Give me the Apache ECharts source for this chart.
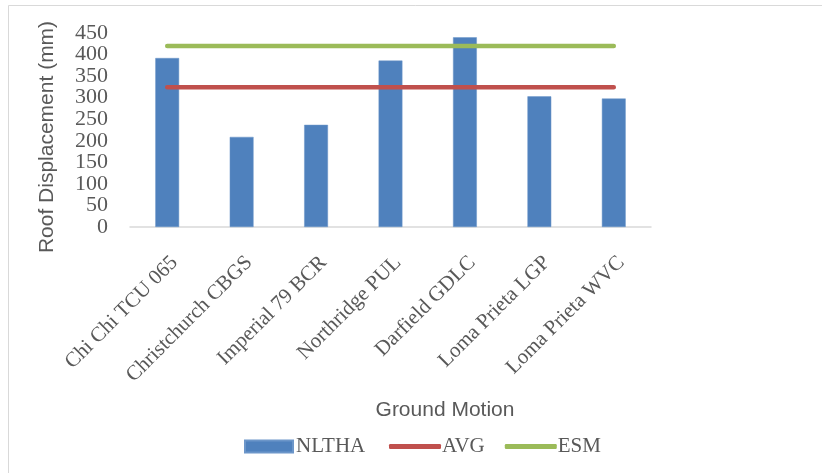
<!DOCTYPE html>
<html><head><meta charset="utf-8">
<script src="https://cdn.jsdelivr.net/npm/echarts@6/dist/echarts.min.js"></script>
<style>html,body{margin:0;padding:0;background:#fff}#c{width:822px;height:473px}</style>
</head><body><div id="c"></div>
<script>
const categories = ['Chi Chi TCU 065','Christchurch CBGS','Imperial 79 BCR','Northridge PUL','Darfield GDLC','Loma Prieta LGP','Loma Prieta WVC'];
const nlthaValues = [392, 209, 237, 386, 440, 303, 298];
const avgValues = [324, 324, 324, 324, 324, 324, 324];
const esmValues = [420, 420, 420, 420, 420, 420, 420];
const yTicksEven = [0, 100, 200, 300, 400];
const yTicksOdd = [50, 150, 250, 350, 450];

const serif = '"Liberation Serif", serif';
const sans = '"Liberation Sans", Arial, sans-serif';
const txt = '#595959';

function yAxisDef(values) {
  return {
    type: 'value', position: 'left', offset: 0, min: 0, max: 450, interval: 50,
    axisLine: {show: false}, axisTick: {show: false}, splitLine: {show: false},
    axisLabel: {margin: 22, fontFamily: serif, fontSize: 22, color: txt, customValues: values,
      showMinLabel: true, showMaxLabel: true, hideOverlap: false}
  };
}

const chart = echarts.init(document.getElementById('c'), null, {renderer: 'canvas'});
chart.setOption({
  animation: false,
  backgroundColor: '#fff',
  grid: {left: 130, right: 171, top: 33, bottom: 246, containLabel: false},
  graphic: [
    {type: 'rect', shape: {x: 8.5, y: 5.5, width: 900, height: 600}, style: {fill: 'none', stroke: '#D9D9D9', lineWidth: 1}, silent: true},
    {type: 'text', x: 47, y: 137, rotation: Math.PI/2, style: {text: 'Roof Displacement (mm)', font: '21px ' + sans, fill: txt, align: 'center', verticalAlign: 'middle'}},
    {type: 'text', x: 445, y: 410, style: {text: 'Ground Motion', font: '21px ' + sans, fill: txt, align: 'center', verticalAlign: 'middle'}}
  ],
  legend: [
    {
      left: 239, top: 431,
      itemWidth: 48, itemHeight: 12,
      textStyle: {fontFamily: serif, fontSize: 21, color: txt, padding: [0,0,0,-2]},
      data: [{name: 'NLTHA', icon: 'rect'}]
    },
    {
      left: 384, top: 431,
      itemGap: 20, itemWidth: 52, itemHeight: 5,
      textStyle: {fontFamily: serif, fontSize: 21, color: txt, padding: [0,0,0,-4]},
      data: [{name: 'AVG', icon: 'roundRect'}, {name: 'ESM', icon: 'roundRect'}]
    }
  ],
  xAxis: {
    type: 'category', data: categories, boundaryGap: true,
    axisLine: {lineStyle: {color: '#D9D9D9', width: 1.5}},
    axisTick: {show: false},
    axisLabel: {rotate: 45, interval: 0, margin: 25, align: 'right', verticalAlign: 'top', fontFamily: serif, fontSize: 21, color: txt}
  },
  yAxis: [yAxisDef(yTicksEven), yAxisDef(yTicksOdd)],
  series: [
    {name: 'NLTHA', type: 'bar', yAxisIndex: 0, data: nlthaValues, barWidth: '32%',
     itemStyle: {color: '#4F81BD', borderColor: '#6C96C9', borderWidth: 0.5}},
    {name: 'AVG', type: 'line', yAxisIndex: 0, data: avgValues, symbol: 'none', showSymbol: false,
     lineStyle: {color: '#C0504D', width: 4.5, cap: 'round'}, itemStyle: {color: '#C0504D'}},
    {name: 'ESM', type: 'line', yAxisIndex: 0, data: esmValues, symbol: 'none', showSymbol: false,
     lineStyle: {color: '#9BBB59', width: 4.5, cap: 'round'}, itemStyle: {color: '#9BBB59'}}
  ]
});
</script></body></html>
